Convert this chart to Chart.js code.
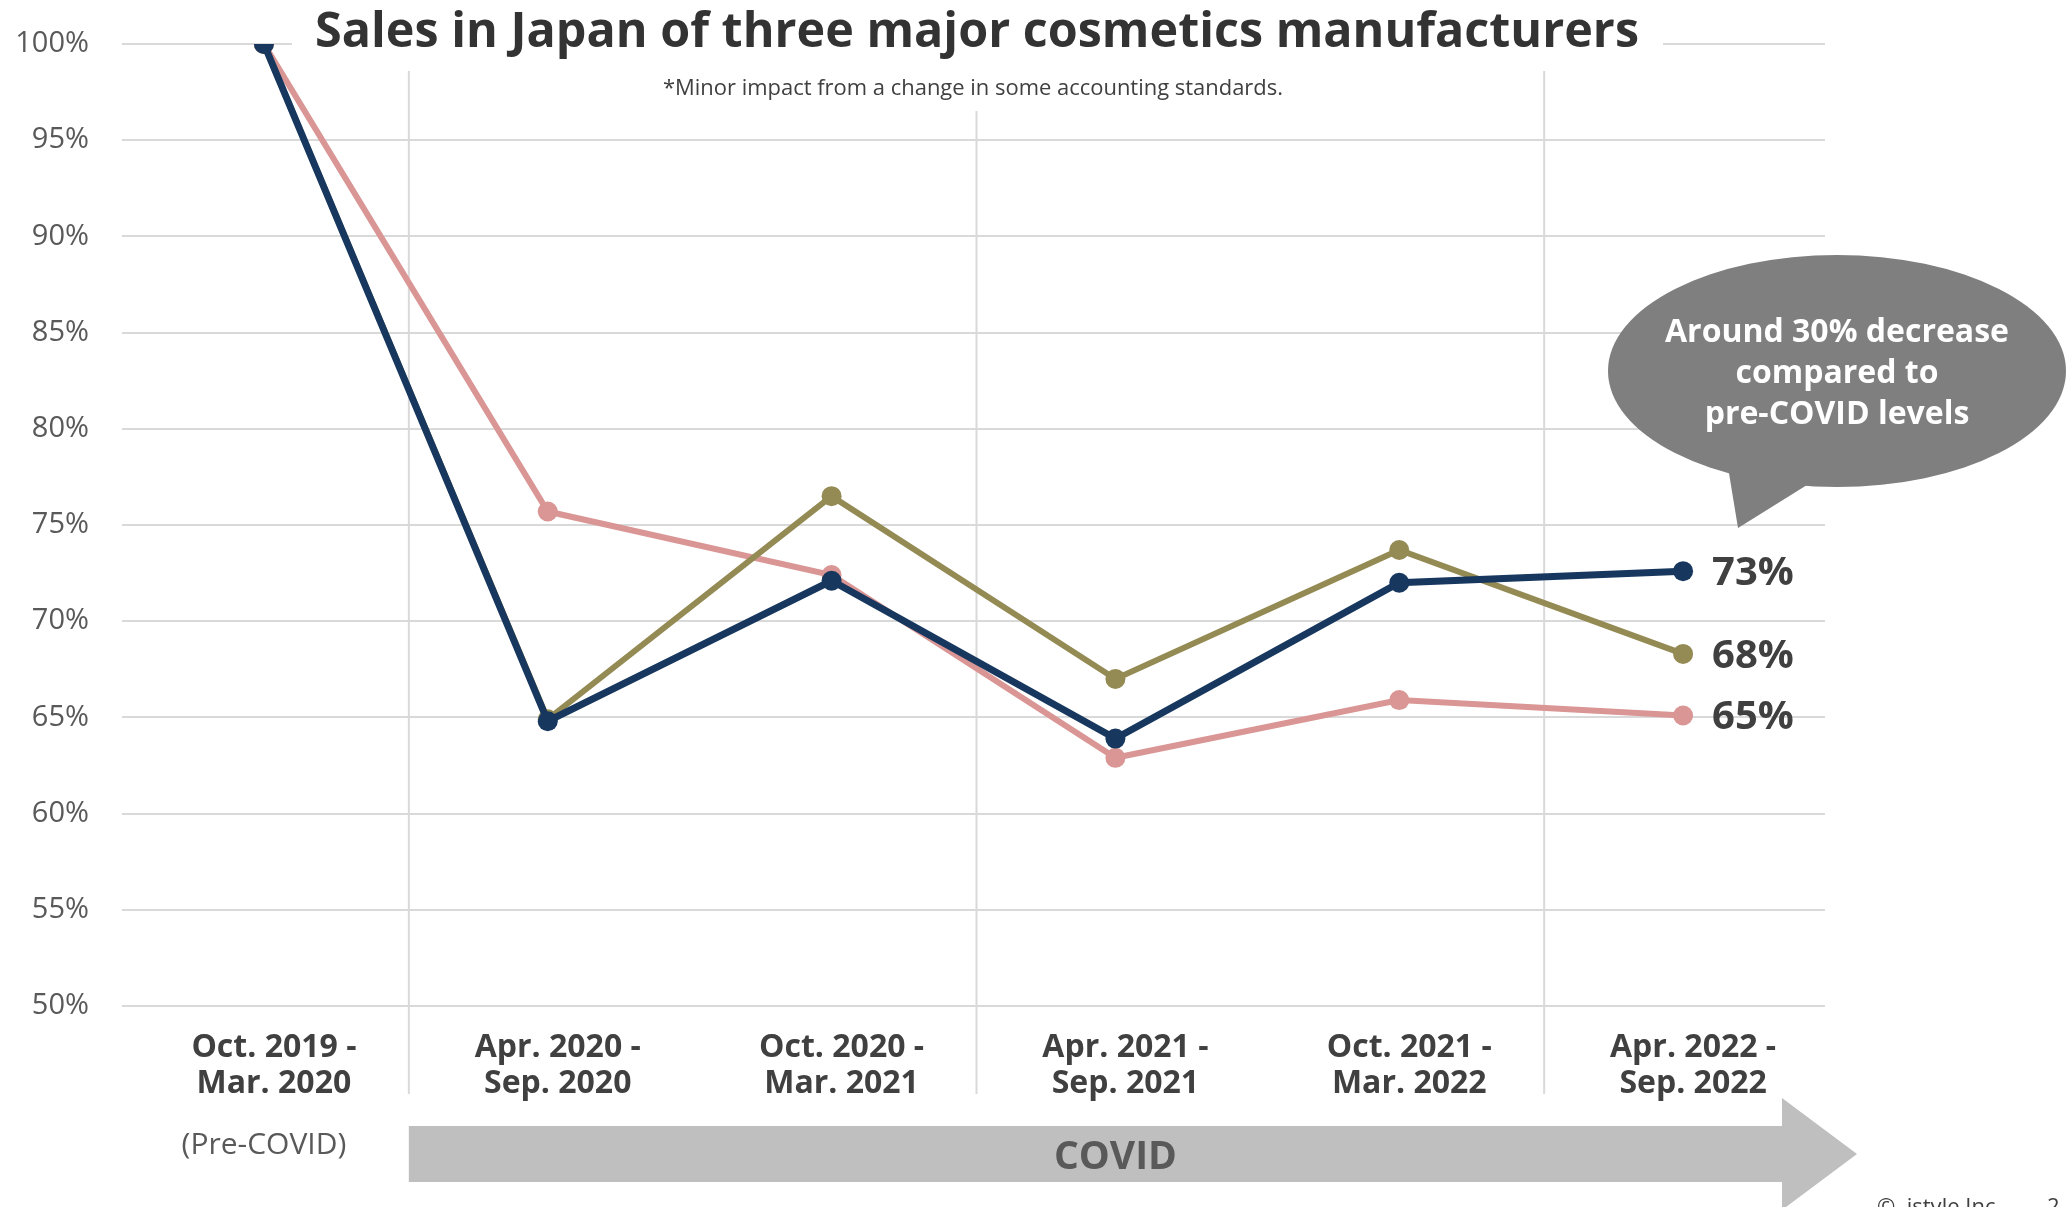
<!DOCTYPE html>
<html>
<head>
<meta charset="utf-8">
<script src="https://cdn.jsdelivr.net/npm/chart.js@4.4.1/dist/chart.umd.min.js"></script>
<style>
html, body { margin: 0; padding: 0; background: #fff; }
#wrap { width: 2066px; height: 1207px; position: relative; }
</style>
</head>
<body>
<div id="wrap"><canvas id="chart-line"></canvas></div>
<script>
// categories (half-year periods)
var periods = [
    ["Oct. 2019 -", "Mar. 2020"],
    ["Apr. 2020 -", "Sep. 2020"],
    ["Oct. 2020 -", "Mar. 2021"],
    ["Apr. 2021 -", "Sep. 2021"],
    ["Oct. 2021 -", "Mar. 2022"],
    ["Apr. 2022 -", "Sep. 2022"]
];

// sales indexed to Oct. 2019 - Mar. 2020 = 100%
var makerNavy  = [100, 64.8, 72.1, 63.9, 72.0, 72.6];
var makerOlive = [100, 64.9, 76.5, 67.0, 73.7, 68.3];
var makerPink  = [100, 75.7, 72.4, 62.9, 65.9, 65.1];

var yTicks = [50, 55, 60, 65, 70, 75, 80, 85, 90, 95, 100];

var titleText = "Sales in Japan of three major cosmetics manufacturers";
var noteText = "*Minor impact from a change in some accounting standards.";
var bubbleLines = ["Around 30% decrease", "compared to", "pre-COVID levels"];

var FONT = '"Open Sans", "Noto Sans", sans-serif';

var decor = {
    id: 'decor',
    beforeDatasetsDraw: function (chart) {
        var ctx = chart.ctx;
        var xs = chart.scales.x;
        var area = chart.chartArea;
        ctx.save();

        // vertical separators between every second period
        ctx.strokeStyle = '#d9d9d9';
        ctx.lineWidth = 2;
        [0, 2, 4].forEach(function (i) {
            var px = (xs.getPixelForValue(i) + xs.getPixelForValue(i + 1)) / 2 + 3;
            ctx.beginPath();
            ctx.moveTo(px, 71);
            ctx.lineTo(px, area.bottom + 88);
            ctx.stroke();
        });

        // title and note, on white boxes
        ctx.fillStyle = '#fff';
        ctx.fillRect(292, 0, 1663 - 292, 71);
        ctx.fillRect(640, 71, 670, 40);

        ctx.fillStyle = '#333333';
        ctx.textAlign = 'center';
        ctx.textBaseline = 'alphabetic';
        ctx.font = 'bold 49px ' + FONT;
        ctx.fillText(titleText, 977, 47, 1324);

        ctx.fillStyle = '#404040';
        ctx.font = '22px ' + FONT;
        ctx.fillText(noteText, 973, 95, 620);
        ctx.restore();
    },
    afterDraw: function (chart) {
        var ctx = chart.ctx;
        var xs = chart.scales.x;
        ctx.save();

        // end-of-line values
        ctx.fillStyle = '#404040';
        ctx.font = 'bold 40px ' + FONT;
        ctx.textAlign = 'left';
        ctx.textBaseline = 'alphabetic';
        chart.data.datasets.forEach(function (ds, i) {
            var meta = chart.getDatasetMeta(i);
            var pt = meta.data[meta.data.length - 1];
            var v = ds.data[ds.data.length - 1];
            ctx.fillText(Math.round(v) + '%', pt.x + 29, pt.y + 14);
        });

        // speech bubble
        ctx.fillStyle = '#7f7f7f';
        ctx.beginPath();
        ctx.ellipse(1837, 371, 229, 116, 0, 0, Math.PI * 2);
        ctx.fill();
        ctx.beginPath();
        ctx.moveTo(1726, 455);
        ctx.lineTo(1738, 528);
        ctx.lineTo(1815, 480);
        ctx.closePath();
        ctx.fill();

        ctx.fillStyle = '#ffffff';
        ctx.font = 'bold 32px ' + FONT;
        ctx.textAlign = 'center';
        bubbleLines.forEach(function (line, i) {
            ctx.fillText(line, 1837, 342 + i * 41);
        });

        // pre-COVID / COVID band
        var x0 = (xs.getPixelForValue(0) + xs.getPixelForValue(1)) / 2 + 3;
        ctx.fillStyle = '#bfbfbf';
        ctx.beginPath();
        ctx.moveTo(x0, 1126);
        ctx.lineTo(1782, 1126);
        ctx.lineTo(1782, 1098);
        ctx.lineTo(1857, 1154);
        ctx.lineTo(1782, 1210);
        ctx.lineTo(1782, 1182);
        ctx.lineTo(x0, 1182);
        ctx.closePath();
        ctx.fill();

        ctx.fillStyle = '#595959';
        ctx.font = '30px ' + FONT;
        ctx.fillText('(Pre-COVID)', xs.getPixelForValue(0), 1154);
        ctx.font = 'bold 39px ' + FONT;
        ctx.fillText('COVID', xs.getPixelForValue(3), 1169);

        // footer
        ctx.fillStyle = '#404040';
        ctx.font = '22px ' + FONT;
        ctx.textAlign = 'left';
        ctx.fillText('\u00a9  istyle Inc.', 1877, 1214);
        ctx.fillText('2', 2047, 1214);
        ctx.restore();
    }
};

function lineSet(label, data, color, width) {
    return {
        label: label,
        data: data,
        tension: 0,
        borderColor: color,
        borderWidth: width,
        backgroundColor: color,
        pointRadius: 10,
        pointBackgroundColor: color,
        pointBorderWidth: 0,
        fill: false
    };
}

var ctx = document.getElementById("chart-line").getContext("2d");

new Chart(ctx, {
    type: "line",
    data: {
        labels: periods,
        datasets: [
            lineSet("Manufacturer A", makerNavy, "#17375e", 7),
            lineSet("Manufacturer B", makerOlive, "#948a54", 6),
            lineSet("Manufacturer C", makerPink, "#d99694", 6)
        ]
    },
    options: {
        responsive: true,
        maintainAspectRatio: false,
        animation: false,
        layout: {
            padding: { top: 44, right: 241, left: 0, bottom: 0 }
        },
        plugins: {
            legend: { display: false },
            tooltip: { enabled: false }
        },
        scales: {
            y: {
                min: 50,
                max: 100,
                afterBuildTicks: function (scale) {
                    scale.ticks = yTicks.map(function (v) { return { value: v }; });
                },
                afterFit: function (scale) {
                    scale.width = 122;
                    scale.paddingTop = 0;
                    scale.paddingBottom = 0;
                },
                border: { display: false },
                grid: {
                    color: '#d9d9d9',
                    lineWidth: 2,
                    drawTicks: false
                },
                ticks: {
                    padding: 33,
                    color: '#595959',
                    font: { size: 29, family: FONT },
                    callback: function (v) { return v + '%'; }
                }
            },
            x: {
                offset: true,
                afterFit: function (scale) { scale.height = 201; },
                border: { display: false },
                grid: { display: false, drawTicks: false },
                ticks: {
                    autoSkip: false,
                    maxRotation: 0,
                    padding: 24,
                    labelOffset: 10,
                    color: '#404040',
                    font: { size: 32, weight: 'bold', family: FONT, lineHeight: 1.125 }
                }
            }
        }
    },
    plugins: [decor]
});
</script>
</body>
</html>
